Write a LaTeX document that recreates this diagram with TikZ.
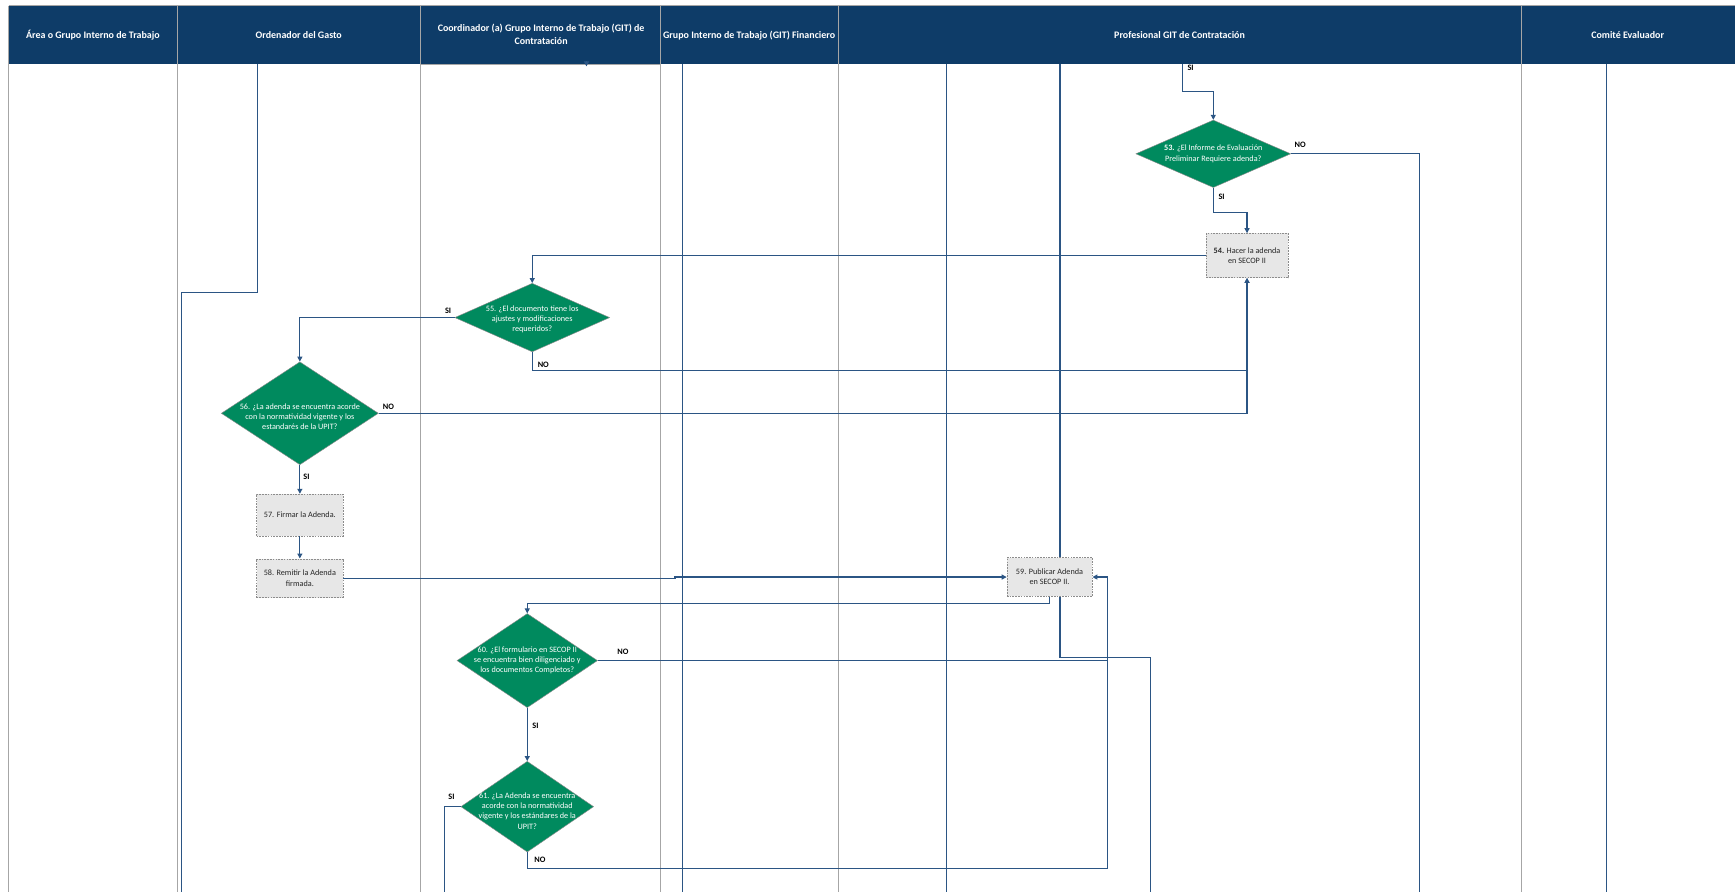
\documentclass[tikz,border=0pt]{standalone}
\usepackage{fontspec}
\setmainfont{Carlito}
\usetikzlibrary{shapes.geometric,arrows.meta}
\definecolor{hdr}{HTML}{0E3C68}
\definecolor{dgreen}{HTML}{008A5E}
\definecolor{boxGrey}{HTML}{E7E7E7}
\definecolor{boxEdge}{HTML}{8C8C8C}
\definecolor{connBlue}{HTML}{2B5584}
\definecolor{laneGrey}{HTML}{A6A6A6}
\begin{document}
\begin{tikzpicture}[x=1pt,y=-1pt,
  lane/.style={draw=laneGrey,line width=0.8pt},
  conn/.style={draw=connBlue,line width=1pt},
  arr/.style={conn,-{Triangle[width=4.5pt,length=4.5pt]}},
  decision/.style={diamond,fill=dgreen,draw=boxEdge,line width=0.4pt,inner sep=0pt},
  dtext/.style={text=white,font=\fontsize{7.4}{9.2}\selectfont,align=center,inner sep=0pt},
  task/.style={rectangle,fill=boxGrey,draw=boxEdge,dash pattern=on 1.5pt off 1pt,
    line width=0.5pt,font=\fontsize{7.4}{9.2}\selectfont,align=center,text=black!85,inner sep=1pt},
  lbl/.style={font=\bfseries\fontsize{7.5}{8}\selectfont,inner sep=0pt},
  hdrtext/.style={text=white,font=\bfseries\fontsize{9}{12.5}\selectfont,align=center}
]
\useasboundingbox (0,0) rectangle (1568,806);

% header band
\fill[hdr] (8,5) rectangle (1568,58);
\draw[laneGrey,line width=1.2pt] (8,5) -- (1568,5);

% lane separators
\foreach \lx in {8,160,380,597,758,1375}
  \draw[lane] (\lx,5) -- (\lx,806);
\draw[lane] (380,58) -- (597,58);

% lane titles
\node[hdrtext] (h1) at (84,32) {Área o Grupo Interno de Trabajo};
\node[hdrtext] (h2) at (270,32) {Ordenador del Gasto};
\node[hdrtext] (h3) at (489,31) {Coordinador (a) Grupo Interno de Trabajo (GIT) de\\Contratación};
\node[hdrtext] (h4) at (677,32) {Grupo Interno de Trabajo (GIT) Financiero};
\node[hdrtext] (h5) at (1066,32) {Profesional GIT de Contratación};
\node[hdrtext] (h6) at (1471,32) {Comité Evaluador};

% free ends of connectors entering or leaving the page
\coordinate (sIn) at (530,55);
\coordinate (sOrd) at (233,58);
\coordinate (eOrd) at (164,806);
\coordinate (sFin) at (617,58);
\coordinate (eFin) at (617,806);
\coordinate (sProA) at (855.5,58);
\coordinate (eProA) at (855.5,806);
\coordinate (sPub) at (958,58);
\coordinate (ePub) at (1040,806);
\coordinate (s53) at (1069,58);
\coordinate (e53) at (1283,806);
\coordinate (sCom) at (1452,58);
\coordinate (eCom) at (1452,806);
\coordinate (e61) at (402,806);
\coordinate (j59) at (1001,521.5);

% decisions
\node[decision,minimum width=140pt,minimum height=61pt] (d53) at (1096.5,139) {};
\node[dtext] (t53) at (d53) {\textbf{53.} ¿El Informe de Evaluación\\Preliminar Requiere adenda?};
\node[decision,minimum width=140pt,minimum height=62pt] (d55) at (481,287) {};
\node[dtext] (t55) at ([yshift=-1.5pt]d55.center) {55. ¿El documento tiene los\\ajustes y modificaciones\\requeridos?};
\node[decision,minimum width=142pt,minimum height=93pt] (d56) at (271,373.5) {};
\node[dtext] (t56) at ([yshift=-3pt]d56.center) {56. ¿La adenda se encuentra acorde\\con la normatividad vigente y los\\estandarés de la UPIT?};
\node[decision,minimum width=127pt,minimum height=85pt] (d60) at (476.5,597) {};
\node[dtext] (t60) at (d60) {60. ¿El formulario en SECOP II\\se encuentra bien diligenciado y\\los documentos Completos?};
\node[decision,minimum width=120pt,minimum height=82pt] (d61) at (476.5,729) {};
\node[dtext] (t61) at ([yshift=-4pt]d61.center) {61. ¿La Adenda se encuentra\\acorde con la normatividad\\vigente y los estándares de la\\UPIT?};

% tasks
\node[task,minimum width=74pt,minimum height=40pt] (b54) at (1127,231) {\textbf{54.} Hacer la adenda\\en SECOP II};
\node[task,minimum width=78pt,minimum height=38pt] (b57) at (271,465.5) {57. Firmar la Adenda.};
\node[task,minimum width=78pt,minimum height=35pt] (b58) at (271,522.5) {58. Remitir la Adenda\\firmada.};
\node[task,minimum width=77pt,minimum height=35pt] (b59) at (948.5,521.5) {59. Publicar Adenda\\en SECOP II.};

% through lines
\draw[arr] (sIn) -- ++(0,5);
\draw[conn] (sOrd) -- ++(0,206) -| (eOrd);
\draw[conn] (sFin) -- (eFin);
\draw[conn] (sProA) -- (eProA);
\draw[conn] (sCom) -- (eCom);
\draw[conn] (sPub) -- (sPub |- b59.north);

% flow
\draw[arr] (s53) -- ++(0,25) -| (d53.north);
\draw[conn] (d53.east) -| (e53);
\draw[arr] (d53.south) -- ++(0,22) -| (b54.north);
\draw[arr] (b54.west) -| (d55.north);
\draw[arr] (d55.west) -| (d56.north);
\draw[arr] (d55.south) -- ++(0,16.5) -| (b54.south);
\draw[arr] (d56.east) -| (b54.south);
\draw[arr] (d56.south) -- (b57.north);
\draw[arr] (b57.south) -- (b58.north);
\draw[arr] (b58.east) -- (610,522.5) -- (610,521.5) -- (b59.west);
\draw[arr] (b59.south) -- ++(0,6.5) -| (d60.north);
\draw[conn] (b59.south -| sPub) -- (958,594) -| (ePub);
\draw[conn] (d60.east) -- (d60.east -| j59);
\draw[arr] (d60.south) -- (d61.north);
\draw[conn] (d61.west) -| (e61);
\draw[arr] (d61.south) -- ++(0,14.5) -| (j59) -- (b59.east);

% branch labels
\node[lbl] (l0) at (1076,61) {SI};
\node[lbl] (l1) at (1175,131) {NO};
\node[lbl] (l2) at (1104,178) {SI};
\node[lbl] (l3) at (405,281) {SI};
\node[lbl] (l4) at (491,330) {NO};
\node[lbl] (l5) at (351,368) {NO};
\node[lbl] (l6) at (277,431) {SI};
\node[lbl] (l7) at (563,589) {NO};
\node[lbl] (l8) at (484,656) {SI};
\node[lbl] (l9) at (408,720) {SI};
\node[lbl] (l10) at (488,777) {NO};
\end{tikzpicture}
\end{document}
